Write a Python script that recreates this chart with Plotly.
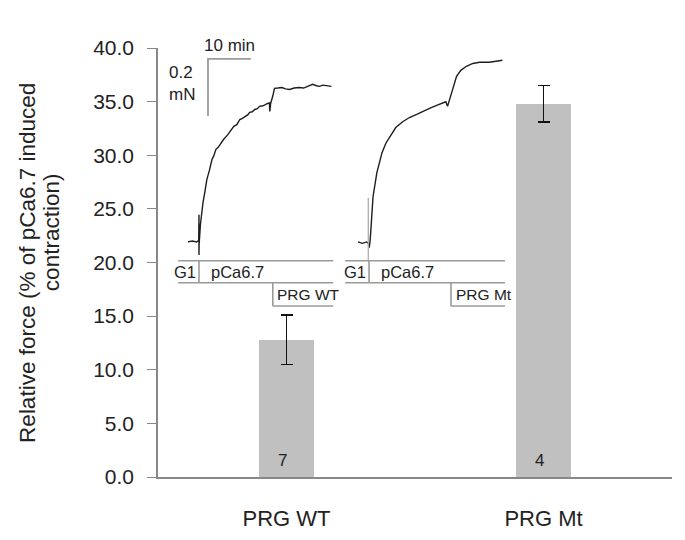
import plotly.graph_objects as go

# ---- main bar data ----
categories = ["PRG WT", "PRG Mt"]
rel_force = [12.8, 34.8]
rel_force_err = [2.3, 1.7]
n_counts = ["7", "4"]
y_ticks = [0, 5, 10, 15, 20, 25, 30, 35, 40]

# ---- inset force traces (time in min, force in mN above baseline) ----
wt_t = [0, 1.0, 2.0, 2.5, 2.57, 2.57, 2.6, 2.9, 3.2, 3.5, 4.0, 4.4, 5.0, 5.6, 6.0, 6.5, 7.0, 7.4,
        8.3, 9.3, 10.0, 10.7, 11.4, 12.1, 12.7, 13.3, 14.0, 14.4, 15.0, 15.6, 16.2, 16.7, 17.5,
        18.6, 19.0, 19.1, 19.3, 19.8, 20.2, 21.0, 21.9, 22.8, 23.7, 24.8, 26.0, 27.0, 28.0, 29.1,
        30.0, 30.7, 31.5, 32.5, 33.5]
wt_f = [0, 0.003, 0, 0.005, 0.095, -0.046, -0.01, 0.06, 0.11, 0.137, 0.18, 0.218, 0.25, 0.288,
        0.30, 0.323, 0.33, 0.340, 0.358, 0.375, 0.39, 0.404, 0.41, 0.428, 0.432, 0.439, 0.445,
        0.453, 0.455, 0.463, 0.466, 0.474, 0.476, 0.484, 0.486, 0.456, 0.484, 0.51, 0.537, 0.538,
        0.540, 0.535, 0.533, 0.538, 0.540, 0.538, 0.545, 0.551, 0.546, 0.544, 0.548, 0.545, 0.544]

mt_t = [0, 1.0, 2.0, 2.4, 2.6, 2.8, 3.0, 3.5, 4.4, 5.6, 6.5, 7.4, 8.8, 10.5, 12.0, 13.7, 15.2,
        16.7, 18.5, 20.2, 20.5, 20.9, 21.2, 21.9, 23.0, 24.0, 25.3, 26.8, 28.4, 30.7, 32.3, 33.7]
mt_f = [0, -0.005, 0.0, -0.004, -0.02, 0.0, 0.042, 0.158, 0.242, 0.312, 0.345, 0.368, 0.400,
        0.421, 0.435, 0.446, 0.457, 0.467, 0.478, 0.488, 0.490, 0.474, 0.490, 0.525, 0.579,
        0.600, 0.614, 0.624, 0.628, 0.628, 0.632, 0.635]
mt_spike_t = [2.4, 2.4]
mt_spike_f = [0.154, -0.063]

# protocol event times (min): start, pCa6.7 switch, PRG added, end
wt_events = [-2.3, 2.57, 19.8, 33.9]
mt_events = [-3.0, 2.57, 21.7, 34.3]
wt_labels = ["G1", "pCa6.7", "PRG WT"]
mt_labels = ["G1", "pCa6.7", "PRG Mt"]

scale_min = 10
scale_mN = 0.2

# ---- layout of the inset (in inset axis units) ----
WT_ORIGIN = (7.0, 0.822)
MT_ORIGIN = (46.7, 0.822)
SCALE_CORNER = (11.67, 1.462)
ROW1, ROW2, ROW3 = -0.066, -0.143, -0.224

TEXT = "#222222"
AXC = "#888888"
FONT = "Liberation Sans, Arial, sans-serif"

fig = go.Figure()

fig.add_trace(go.Bar(
    x=categories, y=rel_force, width=0.214,
    marker=dict(color="#c0c0c0", line=dict(width=0)),
    error_y=dict(type="data", array=rel_force_err, color="#111111", thickness=1.6, width=6),
    showlegend=False, hoverinfo="skip",
))

def add_line(xs, ys, color="#222222", width=1.4):
    fig.add_trace(go.Scatter(x=xs, y=ys, mode="lines", xaxis="x2", yaxis="y2",
                             line=dict(color=color, width=width), showlegend=False,
                             hoverinfo="skip", cliponaxis=False))

def panel(origin, t, f, events, labels):
    ox, oy = origin
    add_line([ox + v for v in t], [oy + v for v in f], color="#1e1e1e", width=1.4)
    s, sw, prg, e = events
    gx, gy = [], []
    for seg in [((s, ROW1), (e, ROW1)), ((s, ROW2), (e, ROW2)), ((sw, ROW1), (sw, ROW2)),
                ((prg, ROW2), (prg, ROW3)), ((prg, ROW3), (e, ROW3))]:
        gx += [ox + seg[0][0], ox + seg[1][0], None]
        gy += [oy + seg[0][1], oy + seg[1][1], None]
    add_line(gx, gy, color="#9a9a9a", width=1.6)
    fsize = 16.5
    fig.add_annotation(x=ox + sw - 0.2, y=oy + (ROW1 + ROW2) / 2, xref="x2", yref="y2",
                       text=labels[0], showarrow=False, xanchor="right", yanchor="middle",
                       font=dict(size=fsize, color=TEXT, family=FONT))
    fig.add_annotation(x=ox + sw + 2.3, y=oy + (ROW1 + ROW2) / 2, xref="x2", yref="y2",
                       text=labels[1], showarrow=False, xanchor="left", yanchor="middle",
                       font=dict(size=fsize, color=TEXT, family=FONT))
    fig.add_annotation(x=ox + prg + 0.6, y=oy + (ROW2 + ROW3) / 2, xref="x2", yref="y2",
                       text=labels[2], showarrow=False, xanchor="left", yanchor="middle",
                       font=dict(size=15.5, color=TEXT, family=FONT))

panel(WT_ORIGIN, wt_t, wt_f, wt_events, wt_labels)
panel(MT_ORIGIN, mt_t, mt_f, mt_events, mt_labels)
add_line([MT_ORIGIN[0] + v for v in mt_spike_t], [MT_ORIGIN[1] + v for v in mt_spike_f],
         color="#b0b0b0", width=1.4)

# scale bar
cx, cy = SCALE_CORNER
add_line([cx + scale_min, cx, cx], [cy, cy, cy - scale_mN], color="#9a9a9a", width=1.8)
fig.add_annotation(x=cx + scale_min / 2, y=cy, xref="x2", yref="y2", text="10 min",
                   showarrow=False, xanchor="center", yanchor="bottom", yshift=2,
                   font=dict(size=17, color=TEXT, family=FONT))
fig.add_annotation(x=cx - 2.5, y=cy - 0.085, xref="x2", yref="y2", text="0.2<br>mN",
                   showarrow=False, xanchor="right", yanchor="middle", align="left",
                   font=dict(size=17, color=TEXT, family=FONT))

# n counts
for c, n in zip(categories, n_counts):
    fig.add_annotation(x=c, y=1.5, xref="x", yref="y", text=n, showarrow=False, xshift=-4,
                       xanchor="center", yanchor="middle",
                       font=dict(size=17, color=TEXT, family=FONT))

# y-axis title (two lines)
fig.add_annotation(x=-0.253, y=0.499, xref="paper", yref="paper", textangle=-90,
                   text="Relative force (% of pCa6.7 induced", showarrow=False,
                   xanchor="center", yanchor="middle",
                   font=dict(size=22.5, color=TEXT, family=FONT))
fig.add_annotation(x=-0.208, y=0.571, xref="paper", yref="paper", textangle=-90,
                   text="contraction)", showarrow=False,
                   xanchor="center", yanchor="middle",
                   font=dict(size=22.5, color=TEXT, family=FONT))

fig.update_layout(
    width=685, height=540,
    margin=dict(l=150, r=21, t=40, b=71),
    plot_bgcolor="white", paper_bgcolor="white",
    font=dict(family=FONT, color=TEXT),
    bargap=0,
    xaxis=dict(range=[-0.5, 1.5], showline=True, linecolor=AXC, linewidth=1.6,
               ticks="", showgrid=False, zeroline=False, ticklabelstandoff=21,
               tickfont=dict(size=22, color=TEXT, family=FONT)),
    yaxis=dict(range=[0, 40], tickvals=y_ticks, tickformat=".1f", showline=True,
               linecolor=AXC, linewidth=1.6, ticks="outside", ticklen=9, tickcolor=AXC,
               tickwidth=1.4, showgrid=False, zeroline=False, ticklabelstandoff=9,
               tickfont=dict(size=21, color=TEXT, family=FONT)),
    xaxis2=dict(overlaying="x", range=[0, 120], visible=False, fixedrange=True),
    yaxis2=dict(overlaying="y", range=[0, 1.5], visible=False, fixedrange=True),
)

fig.write_html("out.html")
